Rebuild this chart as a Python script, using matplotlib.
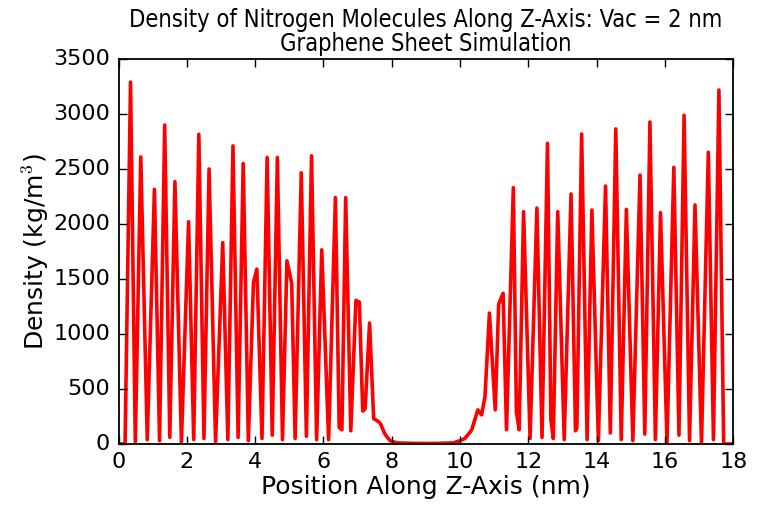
import numpy as np
import matplotlib
matplotlib.use("Agg")
import matplotlib.pyplot as plt

plt.style.use("classic")
plt.rcParams["font.family"] = ["DejaVu Sans"]

# Profile vertices: position (nm) and density (kg/m^3)
position_nm = [
    0.00, 0.19, 0.35, 0.49, 0.65, 0.84, 1.05, 1.20, 1.35, 1.50,
    1.65, 1.84, 2.05, 2.20, 2.35, 2.50, 2.65, 2.84, 3.05, 3.20,
    3.35, 3.50, 3.65, 3.80, 3.95, 4.05, 4.20, 4.35, 4.50, 4.65,
    4.80, 4.93, 5.07, 5.17, 5.35, 5.50, 5.65, 5.80, 5.95, 6.15,
    6.35, 6.46, 6.54, 6.65, 6.80, 6.95, 7.05, 7.15, 7.22, 7.35,
    7.47, 7.58, 7.66, 7.80, 7.95, 8.15, 8.60, 9.00, 9.40, 9.80,
    10.00, 10.14, 10.34, 10.52, 10.63, 10.73, 10.86, 11.03, 11.13, 11.26,
    11.36, 11.56, 11.65, 11.73, 11.86, 12.05, 12.25, 12.40, 12.56, 12.66,
    12.73, 12.86, 13.05, 13.25, 13.38, 13.42, 13.56, 13.72, 13.86, 14.05,
    14.26, 14.40, 14.56, 14.72, 14.87, 15.06, 15.27, 15.41, 15.56, 15.72,
    15.87, 16.06, 16.26, 16.41, 16.56, 16.72, 16.88, 17.07, 17.27, 17.42,
    17.58, 17.72, 18.00,
]
density = [
    0, 0, 3290, 20, 2610, 40, 2315, 30, 2900, 60,
    2385, 20, 2020, 40, 2815, 50, 2500, 20, 1830, 40,
    2710, 60, 2550, 30, 1470, 1590, 50, 2605, 80, 2605,
    40, 1665, 1460, 50, 2465, 70, 2620, 40, 1765, 40,
    2240, 150, 130, 2240, 120, 1305, 1290, 300, 320, 1100,
    230, 210, 190, 90, 30, 10, 6, 5, 6, 10,
    30, 50, 127, 310, 265, 430, 1190, 310, 1270, 1370,
    130, 2330, 290, 130, 2112, 50, 2145, 60, 2733, 220,
    50, 2112, 40, 2273, 120, 150, 2818, 40, 2127, 30,
    2345, 100, 2864, 40, 2133, 30, 2445, 90, 2927, 40,
    2103, 20, 2515, 80, 2988, 30, 2173, 10, 2652, 40,
    3218, 0, 0,
]

title = "Density of Nitrogen Molecules Along Z-Axis: Vac = 2 nm\nGraphene Sheet Simulation"
xlabel = "Position Along Z-Axis (nm)"
ylabel = r"Density (kg/m$^3$)"

fig = plt.figure(figsize=(7.67, 5.05), dpi=100, facecolor="white")
ax = fig.add_axes([0.1546, 0.1208, 0.8014, 0.7624])
ax.set_facecolor("white")
ax.plot(position_nm, density, color="red", linewidth=2.6)
ax.set_xlim(0, 18)
ax.set_ylim(0, 3500)
ax.set_xticks(np.arange(0, 19, 2))
ax.set_yticks(np.arange(0, 3501, 500))
ax.tick_params(labelsize=16, direction="in", length=6, width=1, top=True, right=True, pad=6)
for s in ax.spines.values():
    s.set_linewidth(1.3)
ax.set_xlabel(xlabel, fontsize=18, labelpad=2)
ax.set_ylabel(ylabel, fontsize=18, labelpad=2)
ax.set_title(title, fontsize=17, fontstretch="condensed", linespacing=1.0, pad=6)

fig.savefig("out.png", dpi=100, facecolor="white")
